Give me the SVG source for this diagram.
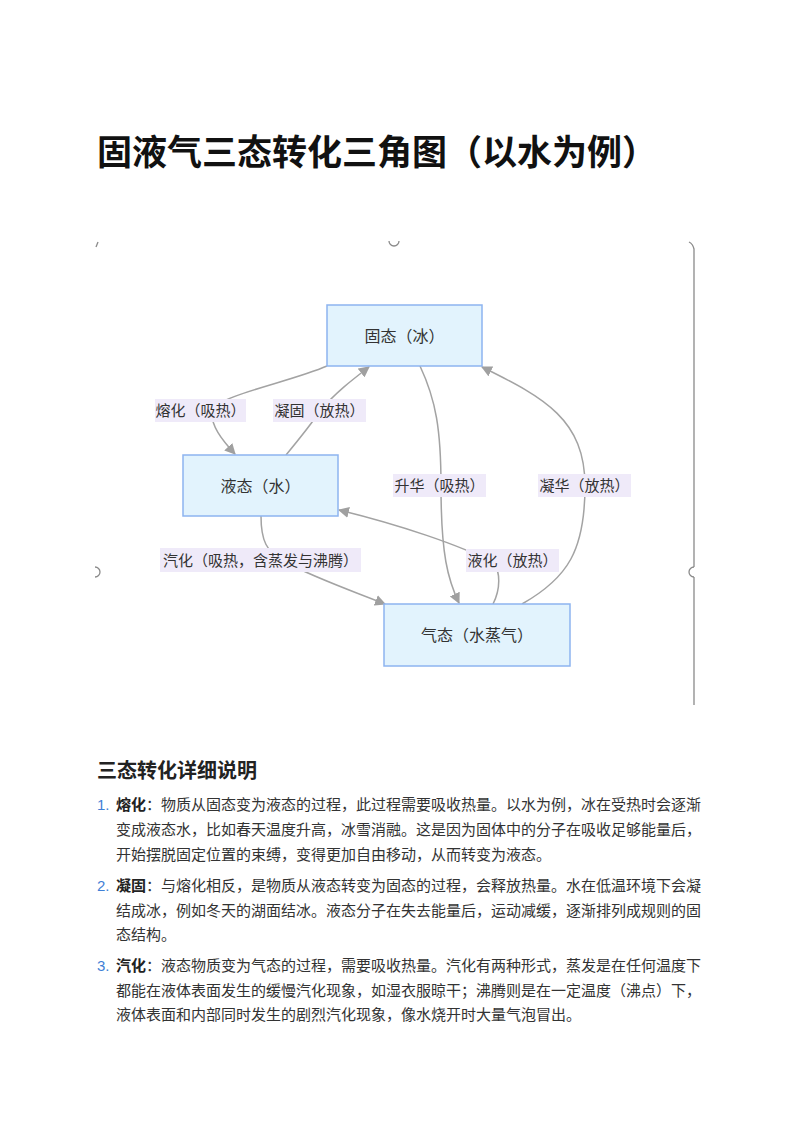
<svg xmlns="http://www.w3.org/2000/svg" width="794" height="1123" viewBox="0 0 794 1123">
<style>
.cjk{font-family:"Liberation Sans","Noto Sans CJK SC",sans-serif;}
.node rect{fill:#e2f3fd;stroke:#8db4f0;stroke-width:1.5;}
.node text{font-size:16px;fill:#333;text-anchor:middle;dominant-baseline:central;}
.lbl rect{fill:#efeaf9;}
.lbl text{font-size:15px;fill:#333;text-anchor:middle;dominant-baseline:central;}
.edge{fill:none;stroke:#a3a3a3;stroke-width:1.5;}
.frame{fill:none;stroke:#8a8a8a;stroke-width:1.3;}
.body{font-size:15px;fill:#333;}
.num{fill:#3f7fd6;}
</style>
<defs>
<marker id="arr" viewBox="0 0 10 10" refX="9" refY="5" markerWidth="11" markerHeight="11" markerUnits="userSpaceOnUse" orient="auto">
<path d="M0,0 L10,5 L0,10 z" fill="#a0a0a0"/>
</marker>
</defs>
<rect width="794" height="1123" fill="#fff"/>
<text class="cjk" x="97" y="165" font-size="35" font-weight="bold" fill="#111">固液气三态转化三角图（以水为例）</text>

<g id="frame">
<path class="frame" d="M96,247 L98,242"/>
<path class="frame" d="M389,241 A5,5 0 0 0 399,241"/>
<path class="frame" d="M689,242 Q693,244 694,249 L694,567 M694,577 L694,705"/>
<path class="frame" d="M694,567 A5,5 0 0 0 694,577"/>
<path class="frame" d="M95,567 A5,5 0 0 1 95,577"/>
</g>

<g id="connectors">
<path class="edge" d="M327,366 C290,382 220,395 212,410 C210,425 222,440 235,454" marker-end="url(#arr)"/>
<path class="edge" d="M286,455 C300,438 312,423 320,411 C335,393 352,380 369,367" marker-end="url(#arr)"/>
<path class="edge" d="M420,366 C436,400 441,430 441,486 C441,555 448,580 459,603" marker-end="url(#arr)"/>
<path class="edge" d="M522,604 C568,578 585,550 585,486 C585,420 545,398 482,367" marker-end="url(#arr)"/>
<path class="edge" d="M493,604 C501,588 500,572 494,563 C460,545 400,525 339,510" marker-end="url(#arr)"/>
<path class="edge" d="M261,516 C261,540 266,552 285,562 C315,578 350,590 385,604" marker-end="url(#arr)"/>
</g>

<g id="labels" class="cjk">
<g class="lbl" id="l1"><rect x="155" y="399" width="91" height="23"/><text x="200.5" y="410.5">熔化（吸热）</text></g>
<g class="lbl" id="l2"><rect x="273" y="399" width="93" height="23"/><text x="319.5" y="410.5">凝固（放热）</text></g>
<g class="lbl" id="l3"><rect x="393" y="474" width="93" height="23"/><text x="439.5" y="485.5">升华（吸热）</text></g>
<g class="lbl" id="l4"><rect x="538" y="474" width="93" height="23"/><text x="584.5" y="485.5">凝华（放热）</text></g>
<g class="lbl" id="l5"><rect x="466" y="549" width="93" height="23"/><text x="512.5" y="560.5">液化（放热）</text></g>
<g class="lbl" id="l6"><rect x="160" y="548" width="201" height="24"/><text x="260.5" y="560">汽化（吸热，含蒸发与沸腾）</text></g>
</g>

<g id="solid" class="node cjk"><rect x="327" y="305" width="155" height="61"/><text x="404.5" y="336">固态（冰）</text></g>
<g id="liquid" class="node cjk"><rect x="183" y="455" width="155" height="61"/><text x="260.5" y="486">液态（水）</text></g>
<g id="gas" class="node cjk"><rect x="384" y="604" width="186" height="62"/><text x="477" y="635">气态（水蒸气）</text></g>

<g id="notes" class="cjk">
<text x="97" y="778" font-size="20" font-weight="bold" fill="#222">三态转化详细说明</text>
<g class="body">
<text x="97" y="810"><tspan class="num">1.</tspan></text>
<text x="116" y="810"><tspan font-weight="bold" fill="#222">熔化</tspan>：物质从固态变为液态的过程，此过程需要吸收热量。以水为例，冰在受热时会逐渐</text>
<text x="116" y="835">变成液态水，比如春天温度升高，冰雪消融。这是因为固体中的分子在吸收足够能量后，</text>
<text x="116" y="860">开始摆脱固定位置的束缚，变得更加自由移动，从而转变为液态。</text>
<text x="97" y="891"><tspan class="num">2.</tspan></text>
<text x="116" y="891"><tspan font-weight="bold" fill="#222">凝固</tspan>：与熔化相反，是物质从液态转变为固态的过程，会释放热量。水在低温环境下会凝</text>
<text x="116" y="916">结成冰，例如冬天的湖面结冰。液态分子在失去能量后，运动减缓，逐渐排列成规则的固</text>
<text x="116" y="940">态结构。</text>
<text x="97" y="971"><tspan class="num">3.</tspan></text>
<text x="116" y="971"><tspan font-weight="bold" fill="#222">汽化</tspan>：液态物质变为气态的过程，需要吸收热量。汽化有两种形式，蒸发是在任何温度下</text>
<text x="116" y="996">都能在液体表面发生的缓慢汽化现象，如湿衣服晾干；沸腾则是在一定温度（沸点）下，</text>
<text x="116" y="1020">液体表面和内部同时发生的剧烈汽化现象，像水烧开时大量气泡冒出。</text>
</g>
</g>
</svg>
